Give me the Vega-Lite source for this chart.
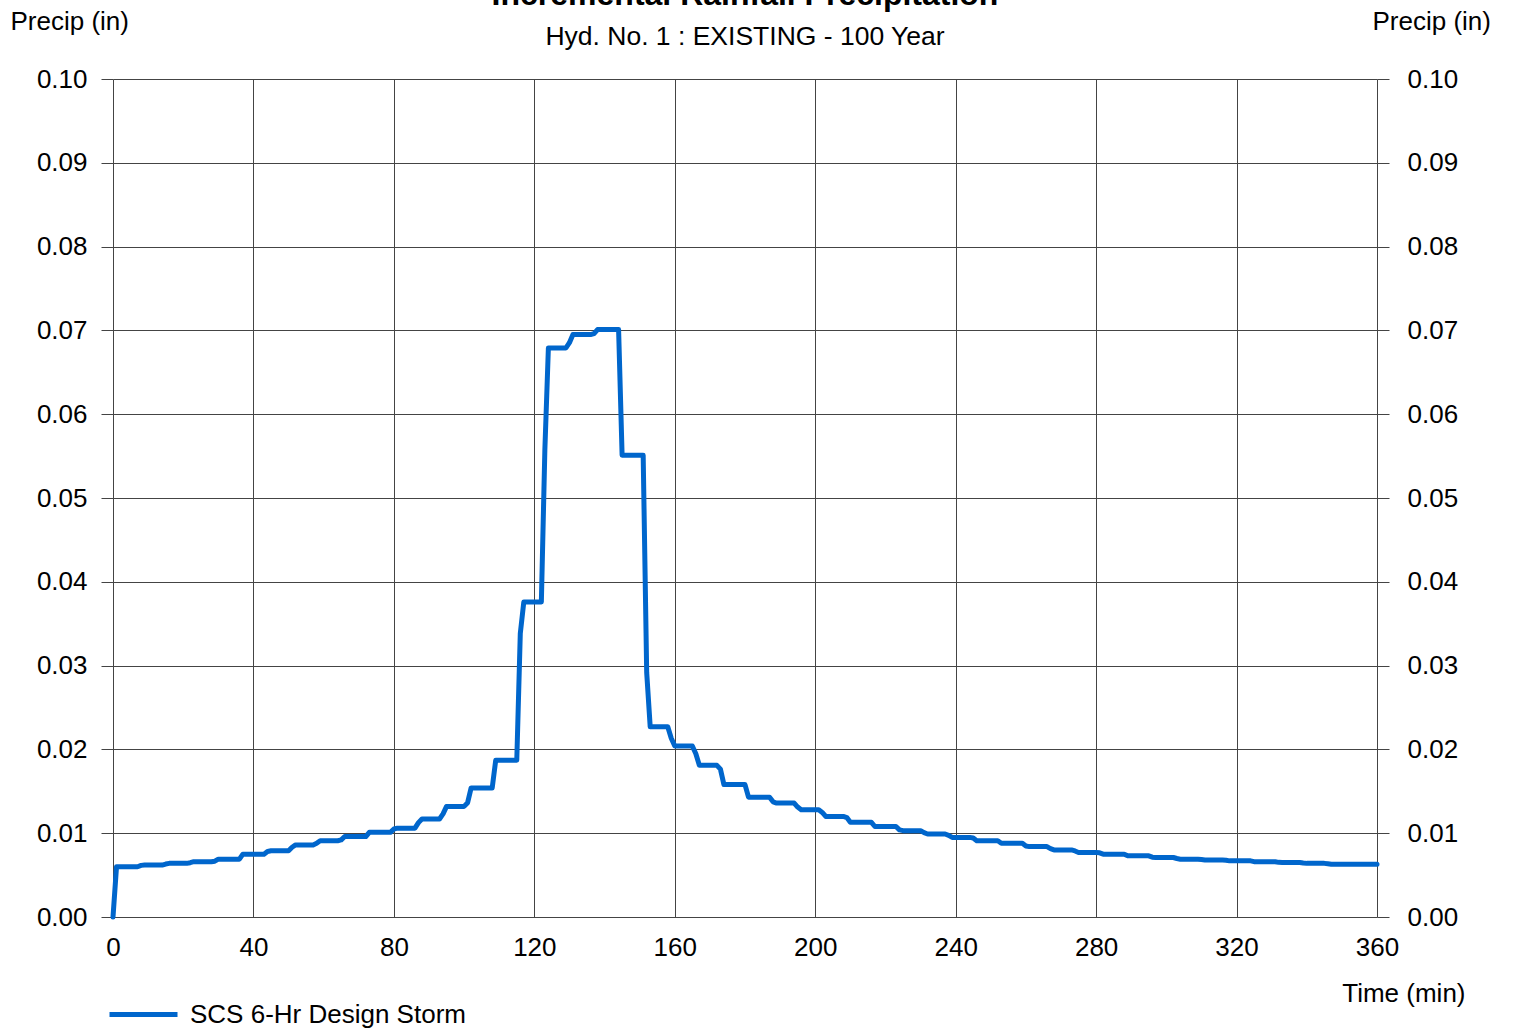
{
"$schema": "https://vega.github.io/schema/vega-lite/v6.json",
"width": 1264, "height": 838,
"autosize": "none",
"padding": {"left": 113, "top": 79, "right": 137, "bottom": 113},
"background": "white",
"config": {"font": "Liberation Sans", "view": {"stroke": null}},
"title": {"text": "Incremental Rainfall Precipitation", "subtitle": "Hyd. No. 1 : EXISTING - 100 Year", "font": "Liberation Sans", "subtitleFont": "Liberation Sans", "fontSize": 32, "fontWeight": "bold", "subtitleFontSize": 26.5, "subtitleFontWeight": "normal", "color": "black", "subtitleColor": "black", "anchor": "middle", "frame": "group", "offset": -43, "subtitlePadding": 12},
"data": {"values": [
{"t":0,"p":0},{"t":1,"p":0.006},
{"t":7,"p":0.006},{"t":8,"p":0.00616},{"t":9,"p":0.0062},
{"t":14,"p":0.0062},{"t":15,"p":0.00632},{"t":16,"p":0.0064},
{"t":21,"p":0.0064},{"t":22,"p":0.00648},{"t":23,"p":0.0066},
{"t":28,"p":0.0066},{"t":29,"p":0.00666},{"t":30,"p":0.0069},
{"t":36,"p":0.0069},{"t":37,"p":0.0075},
{"t":43,"p":0.0075},{"t":44,"p":0.00782},{"t":45,"p":0.0079},
{"t":50,"p":0.0079},{"t":51,"p":0.00832},{"t":52,"p":0.0086},
{"t":57,"p":0.0086},{"t":58,"p":0.0088},{"t":59,"p":0.0091},
{"t":64,"p":0.0091},{"t":65,"p":0.0092},{"t":66,"p":0.0096},
{"t":72,"p":0.0096},{"t":73,"p":0.0101},
{"t":79,"p":0.0101},{"t":80,"p":0.0105},{"t":81,"p":0.0106},
{"t":86,"p":0.0106},{"t":87,"p":0.01126},{"t":88,"p":0.0117},
{"t":93,"p":0.0117},{"t":94,"p":0.0123},{"t":95,"p":0.0132},
{"t":100,"p":0.0132},{"t":101,"p":0.01364},{"t":102,"p":0.0154},
{"t":108,"p":0.0154},{"t":109,"p":0.0187},
{"t":115,"p":0.0187},{"t":116,"p":0.03382},{"t":117,"p":0.0376},
{"t":122,"p":0.0376},{"t":123,"p":0.05578},{"t":124,"p":0.0679},
{"t":129,"p":0.0679},{"t":130,"p":0.06854},{"t":131,"p":0.0695},
{"t":136,"p":0.0695},{"t":137,"p":0.06962},{"t":138,"p":0.0701},
{"t":144,"p":0.0701},{"t":145,"p":0.0551},
{"t":151,"p":0.0551},{"t":152,"p":0.02918},{"t":153,"p":0.0227},
{"t":158,"p":0.0227},{"t":159,"p":0.02132},{"t":160,"p":0.0204},
{"t":165,"p":0.0204},{"t":166,"p":0.01948},{"t":167,"p":0.0181},
{"t":172,"p":0.0181},{"t":173,"p":0.01764},{"t":174,"p":0.0158},
{"t":180,"p":0.0158},{"t":181,"p":0.0143},
{"t":187,"p":0.0143},{"t":188,"p":0.01374},{"t":189,"p":0.0136},
{"t":194,"p":0.0136},{"t":195,"p":0.01312},{"t":196,"p":0.0128},
{"t":201,"p":0.0128},{"t":202,"p":0.01248},{"t":203,"p":0.012},
{"t":208,"p":0.012},{"t":209,"p":0.01186},{"t":210,"p":0.0113},
{"t":216,"p":0.0113},{"t":217,"p":0.0108},
{"t":223,"p":0.0108},{"t":224,"p":0.0104},{"t":225,"p":0.0103},
{"t":230,"p":0.0103},{"t":231,"p":0.01006},{"t":232,"p":0.0099},
{"t":237,"p":0.0099},{"t":238,"p":0.00974},{"t":239,"p":0.0095},
{"t":244,"p":0.0095},{"t":245,"p":0.00942},{"t":246,"p":0.0091},
{"t":252,"p":0.0091},{"t":253,"p":0.0088},
{"t":259,"p":0.0088},{"t":260,"p":0.00848},{"t":261,"p":0.0084},
{"t":266,"p":0.0084},{"t":267,"p":0.00816},{"t":268,"p":0.008},
{"t":273,"p":0.008},{"t":274,"p":0.00788},{"t":275,"p":0.0077},
{"t":280,"p":0.0077},{"t":281,"p":0.00766},{"t":282,"p":0.0075},
{"t":288,"p":0.0075},{"t":289,"p":0.0073},
{"t":295,"p":0.0073},{"t":296,"p":0.00714},{"t":297,"p":0.0071},
{"t":302,"p":0.0071},{"t":303,"p":0.00698},{"t":304,"p":0.0069},
{"t":309,"p":0.0069},{"t":310,"p":0.00686},{"t":311,"p":0.0068},
{"t":316,"p":0.0068},{"t":317,"p":0.00678},{"t":318,"p":0.0067},
{"t":324,"p":0.0067},{"t":325,"p":0.0066},
{"t":331,"p":0.0066},{"t":332,"p":0.00652},{"t":333,"p":0.0065},
{"t":338,"p":0.0065},{"t":339,"p":0.00644},{"t":340,"p":0.0064},
{"t":345,"p":0.0064},{"t":346,"p":0.00636},{"t":347,"p":0.0063},
{"t":360,"p":0.0063}
]},
"layer": [
{
"mark": {"type": "line", "strokeWidth": 5, "strokeJoin": "round", "strokeCap": "round"},
"encoding": {
"x": {"field": "t", "type": "quantitative", "scale": {"domain": [0, 360], "nice": false, "zero": false},
"axis": {"values": [0,40,80,120,160,200,240,280,320,360], "grid": true, "gridColor": "#444444", "gridWidth": 1, "gridOpacity": 1, "ticks": false, "domain": false, "labelFontSize": 26, "labelColor": "black", "labelPadding": 17, "labelFlush": false, "labelFont": "Liberation Sans", "title": "Time (min)", "titleFont": "Liberation Sans", "titleFontSize": 26, "titleFontWeight": "normal", "titleColor": "black", "titleAlign": "right", "titleAnchor": null, "titleX": 1352, "titleY": 84, "titleBaseline": "alphabetic"}},
"y": {"field": "p", "type": "quantitative", "scale": {"domain": [0, 0.1], "nice": false, "zero": true},
"axis": {"orient": "left", "values": [0,0.01,0.02,0.03,0.04,0.05,0.06,0.07,0.08,0.09,0.1], "format": ".2f", "grid": true, "gridColor": "#444444", "gridWidth": 1, "gridOpacity": 1, "ticks": true, "tickSize": 12, "tickColor": "#444444", "tickWidth": 1, "domain": false, "labelFontSize": 26, "labelColor": "black", "labelPadding": 14, "labelFlush": false, "labelFont": "Liberation Sans", "title": "Precip (in)", "titleFont": "Liberation Sans", "titleFontSize": 26, "titleFontWeight": "normal", "titleColor": "black", "titleAngle": 0, "titleAlign": "left", "titleAnchor": null, "titleX": -103, "titleY": -50, "titleBaseline": "alphabetic"}},
"color": {"datum": "SCS 6-Hr Design Storm", "type": "nominal", "scale": {"range": ["#0066CC"]},
"legend": {"orient": "none", "legendX": -6, "legendY": 899, "title": null, "symbolType": "stroke", "symbolSize": 4624, "symbolStrokeWidth": 5, "labelFontSize": 26, "labelColor": "black", "labelFont": "Liberation Sans", "labelOffset": 10, "labelLimit": 600, "padding": 0}}
}
},
{
"mark": {"type": "line", "strokeOpacity": 0},
"encoding": {
"x": {"field": "t", "type": "quantitative", "scale": {"domain": [0, 360], "nice": false, "zero": false}},
"y": {"field": "p", "type": "quantitative", "scale": {"domain": [0, 0.1], "nice": false, "zero": true},
"axis": {"orient": "right", "values": [0,0.01,0.02,0.03,0.04,0.05,0.06,0.07,0.08,0.09,0.1], "format": ".2f", "grid": false, "ticks": true, "tickSize": 12, "tickColor": "#444444", "tickWidth": 1, "domain": false, "labelFontSize": 26, "labelColor": "black", "labelPadding": 18, "labelFlush": false, "labelFont": "Liberation Sans", "title": "Precip (in)", "titleFont": "Liberation Sans", "titleFontSize": 26, "titleFontWeight": "normal", "titleColor": "black", "titleAngle": 0, "titleAlign": "left", "titleAnchor": null, "titleX": -5, "titleY": -50, "titleBaseline": "alphabetic"}}
}
}
],
"resolve": {"scale": {"y": "independent"}}
}
